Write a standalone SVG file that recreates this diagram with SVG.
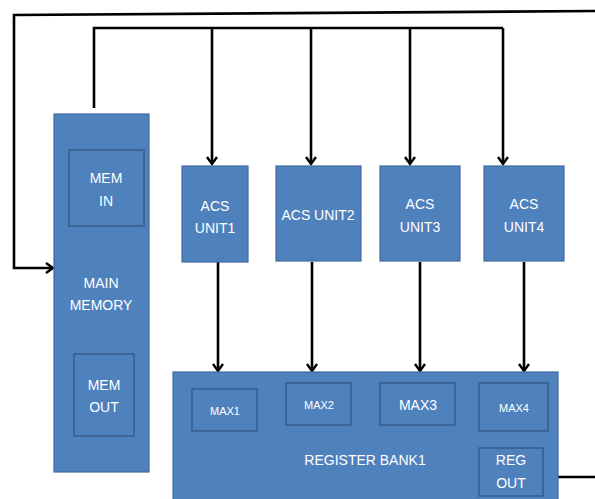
<svg xmlns="http://www.w3.org/2000/svg" width="595" height="499" viewBox="0 0 595 499">
  <style>
    .blk { fill: #4F81BD; stroke: #3F6D9E; stroke-width: 1.2; }
    .sub { fill: #4F81BD; stroke: #395F8C; stroke-width: 1.6; }
    .lbl { fill: #FFFFFF; font-family: "Liberation Sans", "Open Sans", sans-serif; font-size: 14px; text-anchor: middle; dominant-baseline: central; }
    .sm { font-size: 11px; }
    .wire { fill: none; stroke: #000000; stroke-width: 2.6; }
  </style>
  <defs>
    <marker id="arrow" markerWidth="12" markerHeight="12" refX="9" refY="6" orient="auto" markerUnits="userSpaceOnUse">
      <path d="M2,1 L9,6 L2,11" fill="none" stroke="#000000" stroke-width="2.4"/>
    </marker>
  </defs>

  <!-- connectors -->
  <g id="connectors">
    <!-- feedback loop from register output back to main memory -->
    <path class="wire" d="M595,11 L14,15 L14,268 L53,268" marker-end="url(#arrow)"/>
    <path class="wire" d="M558,477 L595,477"/>
    <!-- broadcast bus from main memory to ACS units -->
    <path class="wire" d="M94,108 L94,28 L503,28"/>
    <path class="wire" d="M212,28 L212,164" marker-end="url(#arrow)"/>
    <path class="wire" d="M311,28 L311,164" marker-end="url(#arrow)"/>
    <path class="wire" d="M410,28 L410,164" marker-end="url(#arrow)"/>
    <path class="wire" d="M503,28 L503,164" marker-end="url(#arrow)"/>
    <!-- ACS units to register bank -->
    <path class="wire" d="M218,262 L218,371" marker-end="url(#arrow)"/>
    <path class="wire" d="M312,262 L312,371" marker-end="url(#arrow)"/>
    <path class="wire" d="M420,262 L420,371" marker-end="url(#arrow)"/>
    <path class="wire" d="M524,262 L524,371" marker-end="url(#arrow)"/>
  </g>

  <!-- main memory -->
  <g id="main-memory">
    <rect class="blk" x="54" y="114" width="95" height="358"/>
    <text class="lbl" x="101" y="283">MAIN</text>
    <text class="lbl" x="101" y="305">MEMORY</text>
  </g>
  <g id="mem-in">
    <rect class="sub" x="69" y="150" width="75" height="76"/>
    <text class="lbl" x="106" y="178">MEM</text>
    <text class="lbl" x="106" y="201">IN</text>
  </g>
  <g id="mem-out">
    <rect class="sub" x="74" y="354" width="60" height="82"/>
    <text class="lbl" x="104" y="385">MEM</text>
    <text class="lbl" x="104" y="407">OUT</text>
  </g>

  <!-- ACS units -->
  <g id="acs-unit1">
    <rect class="blk" x="182" y="166" width="66" height="96"/>
    <text class="lbl" x="215" y="206">ACS</text>
    <text class="lbl" x="215" y="228">UNIT1</text>
  </g>
  <g id="acs-unit2">
    <rect class="blk" x="276" y="166" width="85" height="95"/>
    <text class="lbl" x="318" y="215">ACS UNIT2</text>
  </g>
  <g id="acs-unit3">
    <rect class="blk" x="380" y="166" width="80" height="95"/>
    <text class="lbl" x="420" y="204">ACS</text>
    <text class="lbl" x="420" y="227">UNIT3</text>
  </g>
  <g id="acs-unit4">
    <rect class="blk" x="484" y="166" width="80" height="95"/>
    <text class="lbl" x="524" y="204">ACS</text>
    <text class="lbl" x="524" y="227">UNIT4</text>
  </g>

  <!-- register bank -->
  <g id="register-bank1">
    <rect class="blk" x="173" y="372" width="385" height="140"/>
    <text class="lbl" x="365" y="460">REGISTER BANK1</text>
  </g>
  <g id="max1">
    <rect class="sub" x="192" y="389" width="65" height="42"/>
    <text class="lbl sm" x="225" y="411">MAX1</text>
  </g>
  <g id="max2">
    <rect class="sub" x="286" y="383" width="65" height="42"/>
    <text class="lbl sm" x="319" y="405">MAX2</text>
  </g>
  <g id="max3">
    <rect class="sub" x="380" y="383" width="75" height="42"/>
    <text class="lbl" x="418" y="405">MAX3</text>
  </g>
  <g id="max4">
    <rect class="sub" x="479" y="383" width="69" height="48"/>
    <text class="lbl sm" x="514" y="408">MAX4</text>
  </g>
  <g id="reg-out">
    <rect class="sub" x="479" y="448" width="64" height="48"/>
    <text class="lbl" x="511" y="460">REG</text>
    <text class="lbl" x="511" y="483">OUT</text>
  </g>
</svg>
